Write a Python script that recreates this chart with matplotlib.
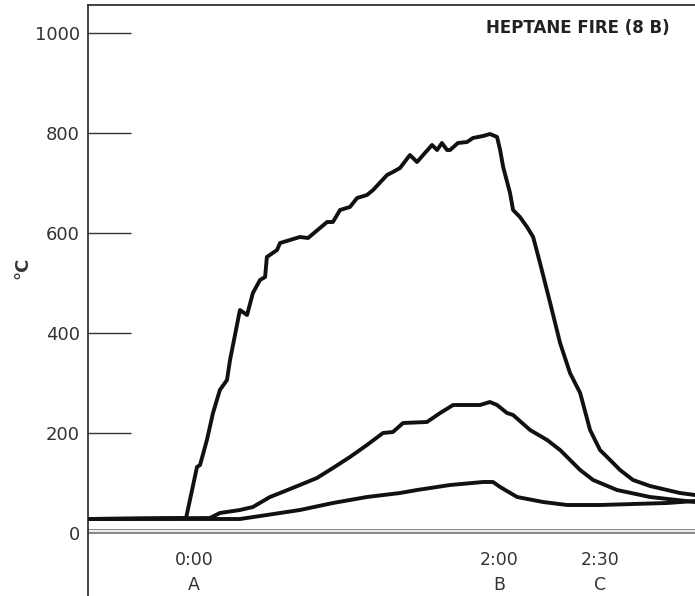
import matplotlib.pyplot as plt

# time in seconds from ignition (0:00), temperature in deg C
t_top = [-41.7, -3.1, 1.2, 2.4, 5.1, 7.5, 10.2, 13.0, 14.2, 18.1, 20.9, 23.2, 26.0, 28.0,
         28.7, 32.7, 33.9, 41.7, 44.9, 49.6, 52.4, 54.7, 57.5, 61.4, 64.2, 68.1, 70.5,
         76.0, 78.3, 81.1, 85.0, 87.8, 90.2, 93.7, 95.7, 97.6, 99.6, 100.8, 103.9, 107.5,
         109.8, 113.8, 116.5, 119.3, 120.5, 121.7, 124.4, 125.6, 128.3, 131.1, 133.5,
         136.2, 140.2, 144.1, 148.0, 152.0, 155.9, 159.8, 162.6, 167.7, 172.8, 179.5,
         186.2, 191.3, 197.2]
T_top = [28, 30, 132, 136, 186, 240, 286, 306, 346, 446, 436, 480, 506, 512,
         552, 566, 580, 592, 590, 610, 622, 622, 646, 652, 670, 676, 686,
         716, 722, 730, 756, 742, 756, 776, 766, 780, 766, 766, 780, 782,
         790, 794, 798, 792, 766, 732, 680, 646, 632, 612, 592,
         540, 460, 380, 320, 280, 206, 166, 152, 126, 106, 94,
         86, 80, 76]

t_mid = [-41.7, 6.3, 10.2, 18.1, 23.2, 29.9, 33.9, 41.7, 48.4, 54.7, 61.4, 68.1, 74.4,
         78.3, 82.3, 91.7, 96.9, 102.0, 107.5, 112.6, 116.5, 119.3, 123.2, 125.6,
         132.3, 139.0, 144.1, 152.0, 157.1, 166.5, 179.5, 197.2]
T_mid = [28, 30, 40, 46, 52, 72, 80, 96, 110, 130, 152, 176, 200,
         202, 220, 222, 240, 256, 256, 256, 262, 256, 240, 236,
         206, 186, 166, 126, 106, 86, 72, 62]

t_low = [-41.7, 2.4, 18.1, 28.7, 41.7, 54.7, 68.1, 81.1, 87.8, 100.8, 113.8, 117.7,
         120.5, 127.2, 137.4, 146.9, 159.8, 186.2, 197.2]
T_low = [28, 28, 28, 36, 46, 60, 72, 80, 86, 96, 102, 102,
         92, 72, 62, 56, 56, 60, 64]

xtick_pos = [0, 120, 160]
xtick_time = ['0:00', '2:00', '2:30']
xtick_event = ['A', 'B', 'C']
yticks = [0, 200, 400, 600, 800, 1000]

plt.rcParams['font.family'] = 'DejaVu Sans'
fig = plt.figure(figsize=(6.95, 5.96), dpi=100)
ax = fig.add_axes([88/695, 0, 1 - 88/695, 1 - 5/596])

# double grey zero line
ax.axhline(4, color='#8a8a8a', lw=3.6, zorder=1)
ax.axhline(4, color='white', lw=1.2, zorder=1)

for t, T in [(t_top, T_top), (t_mid, T_mid), (t_low, T_low)]:
    ax.plot(t, T, color='#111111', lw=2.8, solid_joinstyle='round', zorder=3)

ax.set_xlim(-41.7, 197.2)
ax.set_ylim(-126, 1056)

ax.spines['right'].set_visible(False)
ax.spines['bottom'].set_visible(False)
for s in ['left', 'top']:
    ax.spines[s].set_color('#333333')
    ax.spines[s].set_linewidth(1.3)

ax.set_xticks([])
ax.set_yticks(yticks)
ax.tick_params(axis='y', direction='in', length=31, width=1.0, color='#333333',
               labelsize=13, labelcolor='#333333', pad=6)
ax.yaxis.get_major_ticks()[0].tick1line.set_visible(False)

for x, a, b in zip(xtick_pos, xtick_time, xtick_event):
    ax.text(x, -54, a, ha='center', va='center', fontsize=12.5, color='#333333')
    ax.text(x, -104, b, ha='center', va='center', fontsize=12.5, color='#333333')

fig.text(22/695, 1 - 268/596, '°C', rotation=90, ha='center', va='center',
         fontsize=13, fontweight='bold', color='#333333')
ax.text(0.959, 0.961, 'HEPTANE FIRE (8 B)', transform=ax.transAxes, ha='right',
        va='center', fontsize=12, fontweight='bold', color='#222222')

fig.savefig('out.png', dpi=100)
